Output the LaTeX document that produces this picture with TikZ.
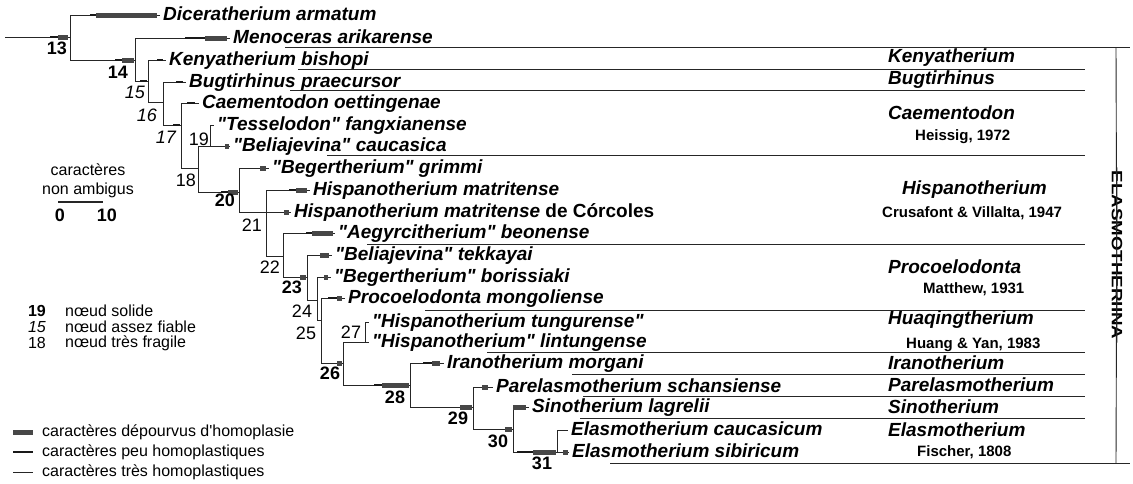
\documentclass[tikz,border=0pt]{standalone}
\usepackage{fontspec}
\setmainfont{Liberation Sans}
\usepackage{tikz}
\usetikzlibrary{positioning}
\newcommand{\qmark}{\textquotedbl}

\begin{document}
\begin{tikzpicture}[
  x=1pt, y=-1pt,
  br/.style={line width=0.8pt, black!85},
  apo/.style={line width=5pt, black!72},
  peu/.style={line width=2.2pt, black!90},
  sepline/.style={line width=0.9pt, black!85},
  taxon/.style={
    anchor=west,
    inner xsep=3pt,
    inner ysep=0pt,
    text height=14pt,
    text depth=3pt,
    font=\fontsize{19}{22}\selectfont\bfseries\itshape
  },
  genus/.style={anchor=west, inner sep=0pt, font=\fontsize{19}{22}\selectfont\bfseries\itshape},
  auth/.style={anchor=west, inner sep=0pt, font=\fontsize{15}{18}\selectfont\bfseries},
  strong/.style={inner sep=0pt, font=\fontsize{18}{20}\selectfont\bfseries},
  fair/.style={inner sep=0pt, font=\fontsize{18}{20}\selectfont\itshape},
  weak/.style={inner sep=0pt, font=\fontsize{18}{20}\selectfont},
  legtext/.style={anchor=west, inner sep=0pt, font=\fontsize{16}{19}\selectfont}
]
\useasboundingbox (0,0) rectangle (1133,483);

\coordinate (root) at (5,37);
\coordinate (n13) at (70,37);
\coordinate (n14) at (135,60);
\coordinate (n15) at (148,81);
\coordinate (n16) at (163,102);
\coordinate (n17) at (181,125);
\coordinate (n18) at (198,168);
\coordinate (n19) at (210,146);
\coordinate (n20) at (239,192);
\coordinate (n21) at (266,212);
\coordinate (n22) at (283,256);
\coordinate (n23) at (307,277);
\coordinate (n24) at (317,300);
\coordinate (n25) at (321,320);
\coordinate (n26) at (343,363);
\coordinate (n27) at (365,342);
\coordinate (n28) at (410,385);
\coordinate (n29) at (473,407);
\coordinate (n30) at (513,429);
\coordinate (n31) at (557,452);

\node[taxon] (dic) at (160,15) {Diceratherium armatum};
\node[taxon] (men) at (230,38) {Menoceras arikarense};
\node[taxon] (ken) at (166,60) {Kenyatherium bishopi};
\node[taxon] (bug) at (186,82) {Bugtirhinus praecursor};
\node[taxon] (cae) at (199,103) {Caementodon oettingenae};
\node[taxon] (tes) at (214,125) {\qmark Tesselodon\qmark{} fangxianense};
\node[taxon] (belc) at (230,146) {\qmark Beliajevina\qmark{} caucasica};
\node[taxon] (gri) at (269,168) {\qmark Begertherium\qmark{} grimmi};
\node[taxon] (hmat) at (310,190) {Hispanotherium matritense};
\node[taxon] (corc) at (291,212) {Hispanotherium matritense \textup{de Córcoles}};
\node[taxon] (aeg) at (335,233) {\qmark Aegyrcitherium\qmark{} beonense};
\node[taxon] (tek) at (332,255) {\qmark Beliajevina\qmark{} tekkayai};
\node[taxon] (bor) at (331,277) {\qmark Begertherium\qmark{} borissiaki};
\node[taxon] (pro) at (345,298) {Procoelodonta mongoliense};
\node[taxon] (tun) at (369,322) {\qmark Hispanotherium tungurense\qmark};
\node[taxon] (lin) at (369,342) {\qmark Hispanotherium\qmark{} lintungense};
\node[taxon] (ira) at (444,363) {Iranotherium morgani};
\node[taxon] (par) at (493,387) {Parelasmotherium schansiense};
\node[taxon] (sin) at (529,407) {Sinotherium lagrelii};
\node[taxon] (eca) at (568,430) {Elasmotherium caucasicum};
\node[taxon] (esi) at (569,452) {Elasmotherium sibiricum};

\draw[br] (root) -- (n13);
\draw[br] (n13) |- (dic);
\draw[br] (n13) |- (n14);
\draw[br] (n14) |- (men);
\draw[br] (n14) |- (n15);
\draw[br] (n15) |- (ken);
\draw[br] (n15) |- (n16);
\draw[br] (n16) |- (bug);
\draw[br] (n16) |- (n17);
\draw[br] (n17) |- (cae);
\draw[br] (n17) |- (n18);
\draw[br] (n18) |- (n19);
\draw[br] (n18) |- (n20);
\draw[br] (n19) |- (tes);
\draw[br] (n19) -- (belc);
\draw[br] (n20) |- (gri);
\draw[br] (n20) |- (n21);
\draw[br] (n21) |- (hmat);
\draw[br] (n21) -- (corc);
\draw[br] (n21) |- (n22);
\draw[br] (n22) |- (aeg);
\draw[br] (n22) |- (n23);
\draw[br] (n23) |- (tek);
\draw[br] (n23) |- (n24);
\draw[br] (n24) |- (bor);
\draw[br] (n24) |- (n25);
\draw[br] (n25) |- (pro);
\draw[br] (n25) |- (n26);
\draw[br] (n26) |- (n27);
\draw[br] (n26) |- (n28);
\draw[br] (n27) |- (tun);
\draw[br] (n27) -- (lin);
\draw[br] (n28) |- (ira);
\draw[br] (n28) |- (n29);
\draw[br] (n29) |- (par);
\draw[br] (n29) |- (n30);
\draw[br] (n30) |- (sin);
\draw[br] (n30) |- (n31);
\draw[br] (n31) |- (eca);
\draw[br] (n31) -- (esi);

\draw[peu] (50,37) -- (58,37);
\draw[apo] (58,37) -- (68,37);
\draw[peu] (90,15) -- (96,15);
\draw[apo] (96,15) -- (157,15);
\draw[peu] (115,60) -- (122,60);
\draw[apo] (122,60) -- (134,60);
\draw[peu] (185,38) -- (205,38);
\draw[apo] (205,38) -- (227,38);
\draw[peu] (140,81) -- (147,81);
\draw[peu] (157,60) -- (163,60);
\draw[peu] (176,82) -- (183,82);
\draw[peu] (173,125) -- (180,125);
\draw[peu] (187,103) -- (195,103);
\draw[apo] (225,146) -- (229,146);
\draw[apo] (260,168) -- (266,168);
\draw[peu] (221,192) -- (228,192);
\draw[apo] (228,192) -- (238,192);
\draw[peu] (289,190) -- (296,190);
\draw[apo] (296,190) -- (307,190);
\draw[apo] (284,212) -- (289,212);
\draw[peu] (306,233) -- (312,233);
\draw[apo] (312,233) -- (333,233);
\draw[apo] (300,277) -- (306,277);
\draw[apo] (320,255) -- (329,255);
\draw[apo] (324,277) -- (328,277);
\draw[peu] (328,298) -- (337,298);
\draw[apo] (337,298) -- (342,298);
\draw[apo] (337,363) -- (342,363);
\draw[peu] (423,363) -- (432,363);
\draw[apo] (432,363) -- (440,363);
\draw[peu] (374,385) -- (382,385);
\draw[apo] (382,385) -- (409,385);
\draw[apo] (482,387) -- (488,387);
\draw[apo] (460,407) -- (472,407);
\draw[apo] (505,429) -- (512,429);
\draw[apo] (513,407) -- (526,407);
\draw[peu] (517,452) -- (533,452);
\draw[apo] (533,452) -- (556,452);
\draw[apo] (563,452) -- (568,452);

\node[strong] (l13) at (57,48) {13};
\node[strong] (l14) at (118,72) {14};
\node[fair] (l15) at (135,92) {15};
\node[fair] (l16) at (147,115) {16};
\node[fair] (l17) at (166,137) {17};
\node[weak] (l18) at (186,180) {18};
\node[weak] (l19) at (199,139) {19};
\node[strong] (l20) at (225,200) {20};
\node[weak] (l21) at (252,225) {21};
\node[weak] (l22) at (270,267) {22};
\node[strong] (l23) at (292,287) {23};
\node[weak] (l24) at (302,311) {24};
\node[weak] (l25) at (306,333) {25};
\node[strong] (l26) at (330,373) {26};
\node[weak] (l27) at (351,332) {27};
\node[strong] (l28) at (395,397) {28};
\node[strong] (l29) at (458,418) {29};
\node[strong] (l30) at (498,441) {30};
\node[strong] (l31) at (542,463) {31};

\draw[sepline] (285,47) -- (1130,47);
\draw[sepline] (298,69) -- (1085,69);
\draw[sepline] (290,90) -- (1085,90);
\draw[sepline] (327,155) -- (1085,155);
\draw[sepline] (367,244) -- (1085,244);
\draw[sepline] (425,310) -- (1085,310);
\draw[sepline] (487,352) -- (1085,352);
\draw[sepline] (572,374) -- (1085,374);
\draw[sepline] (583,396) -- (1085,396);
\draw[sepline] (580,418) -- (1085,418);
\draw[sepline] (610,463) -- (1130,463);

\node[rotate=-90, inner sep=0pt, font=\fontsize{15}{18}\selectfont\bfseries] (elas) at (1117,255)
{\scalebox{1.25}[1]{ELASMOTHERIINA}};
\coordinate (btop) at (1116,47);
\coordinate (bbot) at (1116,463);
\draw[sepline] (btop) -- ([yshift=-3pt]elas.east);
\draw[sepline] ([yshift=3pt]elas.west) -- (bbot);

\node[genus] (gken) at (888,58) {Kenyatherium};
\node[genus] (gbug) at (888,80) {Bugtirhinus};
\node[genus] (gcae) at (888,113) {Caementodon};
\node[auth] (acae) at (915,137) {Heissig, 1972};
\node[genus] (ghis) at (902,190) {Hispanotherium};
\node[auth] (ahis) at (882,213) {Crusafont \& Villalta, 1947};
\node[genus] (gpro) at (888,267) {Procoelodonta};
\node[auth] (apro) at (923,289) {Matthew, 1931};
\node[genus] (ghua) at (888,320) {Huaqingtherium};
\node[auth] (ahua) at (906,345) {Huang \& Yan, 1983};
\node[genus] (gira) at (888,363) {Iranotherium};
\node[genus] (gpar) at (888,385) {Parelasmotherium};
\node[genus] (gsin) at (888,407) {Sinotherium};
\node[genus] (gela) at (888,430) {Elasmotherium};
\node[auth] (aela) at (917,452) {Fischer, 1808};

\node[legtext, anchor=center] (car) at (88,170) {caractères};
\node[legtext, anchor=center] (amb) at (88,190) {non ambigus};
\draw[line width=1.8pt, black!85] (58,202) -- (103,202);
\node[strong] (s0) at (60,215) {0};
\node[strong] (s10) at (107,215) {10};

\node[strong, font=\fontsize{16}{18}\selectfont\bfseries] (k19) at (37,311) {19};
\node[legtext] (t19) at (65,311) {nœud solide};
\node[fair, font=\fontsize{16}{18}\selectfont\itshape] (k15) at (37,327) {15};
\node[legtext] (t15) at (65,327) {nœud assez fiable};
\node[weak, font=\fontsize{16}{18}\selectfont] (k18) at (37,343) {18};
\node[legtext] (t18) at (65,343) {nœud très fragile};

\draw[apo] (13,432) -- (33,432);
\node[legtext] (tapo) at (42,432) {caractères dépourvus d\textquotesingle homoplasie};
\draw[peu] (13,452) -- (33,452);
\node[legtext] (tpeu) at (42,452) {caractères peu homoplastiques};
\draw[br] (13,472) -- (33,472);
\node[legtext] (ttres) at (42,472) {caractères très homoplastiques};

\end{tikzpicture}
\end{document}
